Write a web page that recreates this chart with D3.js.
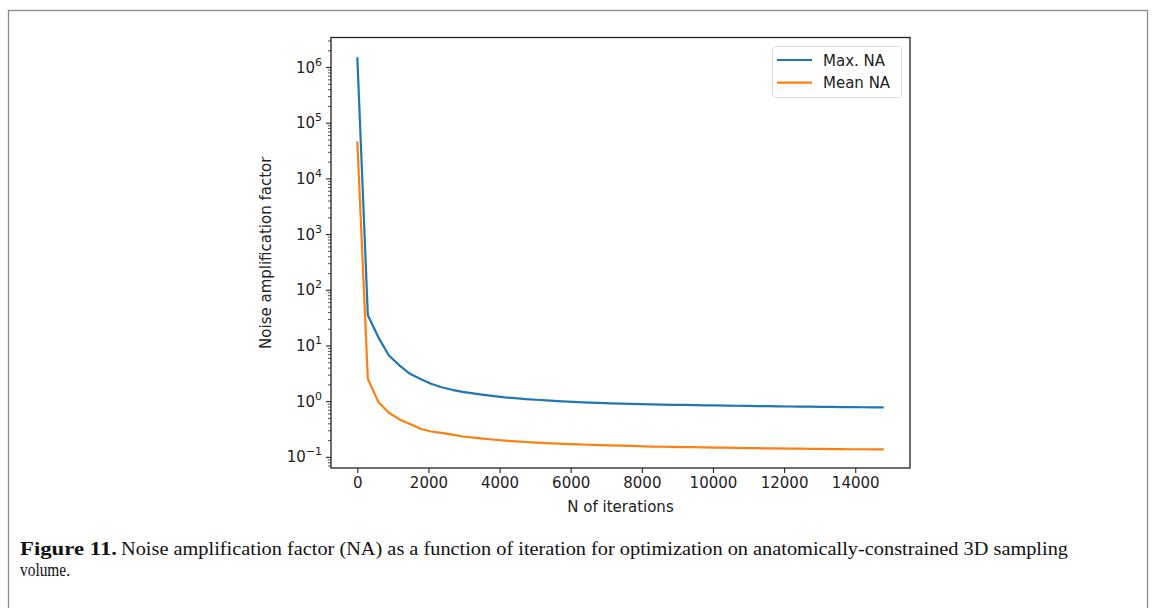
<!DOCTYPE html>
<html><head><meta charset="utf-8">
<script src="https://cdn.jsdelivr.net/npm/d3@7"></script>
<style>
body{margin:0;background:#fff;}
svg{display:block;}
</style></head>
<body>
<svg id="chart" width="1156" height="608"></svg>
<script>
const iterations = [0,296,592,888,1184,1480,1776,2072,2368,2664,2960,3256,3552,3848,4144,4440,4736,5032,5328,5624,5920,6216,6512,6808,7104,7400,7696,7992,8288,8584,8880,9176,9472,9768,10064,10360,10656,10952,11248,11544,11840,12136,12432,12728,13024,13320,13616,13912,14208,14504,14800];
const maxNA = [1.5e6,35,14,6.6,4.4,3.1,2.5,2.05,1.78,1.6,1.47,1.38,1.3,1.23,1.17,1.13,1.09,1.06,1.03,1.0,0.98,0.96,0.945,0.93,0.915,0.905,0.895,0.885,0.876,0.868,0.861,0.855,0.849,0.843,0.838,0.833,0.828,0.823,0.818,0.813,0.808,0.803,0.799,0.795,0.791,0.787,0.783,0.78,0.777,0.774,0.771];
const meanNA = [46000,2.5,0.97,0.62,0.47,0.39,0.32,0.285,0.27,0.25,0.232,0.222,0.212,0.203,0.196,0.19,0.185,0.18,0.176,0.173,0.17,0.167,0.165,0.163,0.161,0.159,0.157,0.155,0.153,0.152,0.151,0.15,0.149,0.148,0.147,0.146,0.145,0.144,0.143,0.142,0.142,0.141,0.14,0.139,0.139,0.138,0.138,0.137,0.137,0.136,0.136];
const xTicks = [0,2000,4000,6000,8000,10000,12000,14000];
const yTickExps = [-1,0,1,2,3,4,5,6];
const seriesNames = ["Max. NA","Mean NA"];
const seriesColors = ["#1f77b4","#ff7f0e"];

const svg = d3.select("#chart");
const L = 331, R = 910, T = 37.5, B = 468;
const font = "'DejaVu Sans', sans-serif";

// outer figure border
svg.append("rect").attr("x",8.5).attr("y",10.5).attr("width",1139).attr("height",620)
  .attr("fill","none").attr("stroke","#8a8a8a").attr("stroke-width",1.3);

const x = d3.scaleLinear().domain([-740, 15540]).range([L, R]);
const y = d3.scaleLog().domain([Math.pow(10,-1.2), Math.pow(10,6.53)]).range([B, T]);

// lines
const series = [maxNA, meanNA];
const line = d3.line().x((d,i)=>x(iterations[i])).y(d=>y(d));
series.forEach((s,k)=>{
  svg.append("path").datum(s).attr("d",line).attr("fill","none")
    .attr("stroke",seriesColors[k]).attr("stroke-width",2.2).attr("stroke-linejoin","round");
});

// frame
svg.append("rect").attr("x",L).attr("y",T).attr("width",R-L).attr("height",B-T)
  .attr("fill","none").attr("stroke","#222").attr("stroke-width",1.3);

// x axis
const xAxis = d3.axisBottom(x).tickValues(xTicks).tickFormat(d3.format("d")).tickSize(5).tickPadding(4);
const gx = svg.append("g").attr("transform",`translate(0,${B})`).call(xAxis);
gx.select(".domain").remove();
gx.selectAll("line").attr("stroke","#222").attr("stroke-width",1.1);
gx.selectAll("text").attr("font-family",font).attr("font-size",15).attr("fill","#222");

// y axis major
const yAxis = d3.axisLeft(y).tickValues(yTickExps.map(e=>Math.pow(10,e))).tickFormat("").tickSize(5);
const gy = svg.append("g").attr("transform",`translate(${L},0)`).call(yAxis);
gy.select(".domain").remove();
gy.selectAll("line").attr("stroke","#222").attr("stroke-width",1.1);
// minor ticks
const minors = [];
for (let e=-2;e<=6;e++) for (let m=2;m<=9;m++){ const v=m*Math.pow(10,e); if (v>y.domain()[0] && v<y.domain()[1]) minors.push(v);}
const yMinor = d3.axisLeft(y).tickValues(minors).tickFormat("").tickSize(3);
const gym = svg.append("g").attr("transform",`translate(${L},0)`).call(yMinor);
gym.select(".domain").remove();
gym.selectAll("line").attr("stroke","#222").attr("stroke-width",0.8);

// y tick labels
yTickExps.forEach(e=>{
  const t = svg.append("text").attr("x",L-9).attr("y",y(Math.pow(10,e))+5.5)
    .attr("text-anchor","end").attr("font-family",font).attr("font-size",15).attr("fill","#222");
  t.append("tspan").text("10");
  t.append("tspan").attr("dy",-7).attr("font-size",11).text(e<0?"\u2212"+Math.abs(e):String(e));
});

// axis labels
svg.append("text").attr("x",(L+R)/2).attr("y",512).attr("text-anchor","middle")
  .attr("font-family",font).attr("font-size",15).attr("fill","#222").text("N of iterations");
svg.append("text").attr("transform",`translate(271,${(T+B)/2}) rotate(-90)`).attr("text-anchor","middle")
  .attr("font-family",font).attr("font-size",15).attr("fill","#222").text("Noise amplification factor");

// legend
svg.append("rect").attr("x",772.5).attr("y",46.5).attr("width",129).attr("height",51).attr("rx",3)
  .attr("fill","#fff").attr("stroke","#ddd").attr("stroke-width",1);
seriesNames.forEach((n,k)=>{
  const yy = 60 + k*22.7;
  svg.append("line").attr("x1",777).attr("x2",812).attr("y1",yy).attr("y2",yy)
    .attr("stroke",seriesColors[k]).attr("stroke-width",2.2);
  svg.append("text").attr("x",823).attr("y",yy+5.5).attr("font-family",font).attr("font-size",15)
    .attr("fill","#222").text(n);
});

// caption
const serif = "'Liberation Serif', serif";
svg.append("text").attr("x",20).attr("y",555).attr("font-family",serif).attr("font-weight","bold")
  .attr("font-size",19).attr("fill","#111").attr("textLength",97).attr("lengthAdjust","spacingAndGlyphs")
  .text("Figure 11.");
svg.append("text").attr("x",121).attr("y",555).attr("font-family",serif)
  .attr("font-size",19).attr("fill","#111").attr("textLength",947).attr("lengthAdjust","spacingAndGlyphs")
  .text("Noise amplification factor (NA) as a function of iteration for optimization on anatomically-constrained 3D sampling");
svg.append("text").attr("x",20).attr("y",576).attr("font-family",serif)
  .attr("font-size",19).attr("fill","#111").attr("textLength",50).attr("lengthAdjust","spacingAndGlyphs")
  .text("volume.");
</script>
</body></html>
